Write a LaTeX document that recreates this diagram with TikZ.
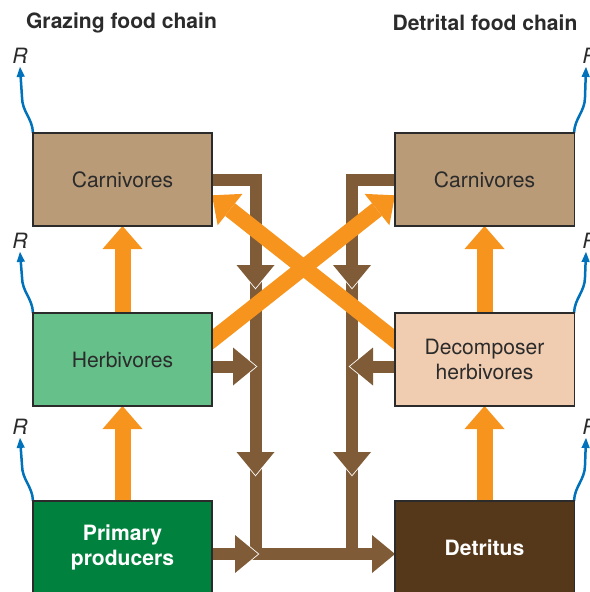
\documentclass[tikz,border=0pt]{standalone}
\usepackage{fontspec}
\setmainfont{TeX Gyre Heros}
\usetikzlibrary{positioning,arrows.meta,calc,backgrounds}

\definecolor{carnc}{HTML}{B99B78}
\definecolor{herbc}{HTML}{66C08A}
\definecolor{prodc}{HTML}{00823E}
\definecolor{decoc}{HTML}{F0CCB0}
\definecolor{detc}{HTML}{553719}
\definecolor{flowc}{HTML}{7F5C37}
\definecolor{eatc}{HTML}{F7941D}
\definecolor{respc}{HTML}{0072BC}
\definecolor{inkc}{HTML}{2B2B2B}

\tikzset{
  box/.style={draw=inkc, line width=0.9pt, minimum width=5.37cm, minimum height=2.79cm,
    inner sep=0pt, outer sep=0pt, align=center, text=inkc, font=\fontsize{18}{21}\selectfont},
  darkbox/.style={box, text=white, font=\bfseries\fontsize{18}{21}\selectfont},
  head/.style={text=inkc, font=\bfseries\fontsize{18}{21}\selectfont},
  rlab/.style={text=inkc, inner sep=3pt, font=\itshape\fontsize{18}{21}\selectfont},
  resp/.style={draw=respc, line width=0.075cm, -{Triangle[length=0.3cm, width=0.25cm, line width=0pt]}},
  eat/.style={draw=eatc, line width=0.48cm, -{Triangle[length=0.69cm, width=1.2cm, line width=0pt]}},
  flow/.style={draw=flowc, line width=0.36cm, line join=miter, -{Triangle[length=0.69cm, width=1.14cm, line width=0pt]}},
  edged/.style={flow, preaction={draw=white, line width=0.42cm, shorten >=-0.04cm,
    -{Triangle[length=0.755cm, width=1.245cm, line width=0pt]}}}
}

\begin{document}
\begin{tikzpicture}[x=0.03cm, y=0.03cm]
  \useasboundingbox (0,0) rectangle (589,-592);

  % titles
  \node[head] (tG) at (121.5,-23) {Grazing food chain};
  \node[head] (tD) at (485,-23) {Detrital food chain};

  % grazing chain
  \node[box, fill=carnc] (carnG) at (122.5,-179.5) {Carnivores};
  \node[box, fill=herbc, below=2.61cm of carnG] (herbG) {Herbivores};
  \node[darkbox, fill=prodc, below=2.85cm of herbG] (prodG) {Primary\\producers};

  % detrital chain
  \node[box, fill=carnc, right=5.49cm of carnG] (carnD) {Carnivores};
  \node[box, fill=decoc, right=5.49cm of herbG] (decD) {Decomposer\\herbivores};
  \node[darkbox, fill=detc, right=5.49cm of prodG] (detD) {Detritus};

  % respiration
  \node[rlab] (rG1) at (20,-55.5) {R};
  \node[rlab] (rG2) at (20,-240.5) {R};
  \node[rlab] (rG3) at (20,-426.5) {R};
  \node[rlab] (rD1) at (590,-55.5) {R};
  \node[rlab] (rD2) at (590,-240.5) {R};
  \node[rlab] (rD3) at (590,-426.5) {R};

  \coordinate (tipL1) at (255.5,-288);
  \coordinate (tipL2) at (255.5,-475);
  \coordinate (bendL) at (255.5,-554);
  \coordinate (tipR1) at (352,-288);
  \coordinate (tipR2) at (352,-475);
  \coordinate (bendR) at (352,-554);

  \begin{scope}[on background layer]
    \draw[resp] (carnG.north west) to[out=92,in=-90] ++(-11,36) -- (rG1.south);
    \draw[resp] (herbG.north west) to[out=92,in=-90] ++(-11,36) -- (rG2.south);
    \draw[resp] (prodG.north west) to[out=92,in=-90] ++(-11,36) -- (rG3.south);
    \draw[resp] (carnD.north east) to[out=88,in=-90] ++(11,36) -- ([xshift=-0.12cm]rD1.south);
    \draw[resp] (decD.north east) to[out=88,in=-90] ++(11,36) -- ([xshift=-0.12cm]rD2.south);
    \draw[resp] (detD.north east) to[out=88,in=-90] ++(11,36) -- ([xshift=-0.12cm]rD3.south);

    % dead matter to detritus
    \draw[edged] ($(tipL2)+(0,15)$) -- (bendL) -- (detD.west |- bendL);
    \draw[flow, -] ($(tipR2)+(0,15)$) -- (bendR);
    \draw[edged] ($(tipL1)+(0,15)$) -- (tipL2);
    \draw[edged] ($(tipR1)+(0,15)$) -- (tipR2);
    \draw[edged] (carnG.east) -| (tipL1);
    \draw[edged] (carnD.west) -| (tipR1);
    \draw[edged] ([yshift=-0.21cm]herbG.east) -- +(44,0);
    \draw[edged] ([yshift=-0.21cm]decD.west) -- +(-45,0);
    \draw[edged] (prodG.east |- bendL) -- +(46,0);

    % feeding
    \draw[eat] (herbG.north) -- (carnG.south);
    \draw[eat] (prodG.north) -- (herbG.south);
    \draw[eat] (decD.north) -- (carnD.south);
    \draw[eat] (detD.north) -- (decD.south);
    \draw[eat, shorten <=-0.3cm] ($(herbG.north east)!0.29!(herbG.south east)$) -- ($(carnD.north west)!0.67!(carnD.south west)$);
    \draw[eat, shorten <=-0.3cm] ($(decD.north west)!0.29!(decD.south west)$) -- ($(carnG.north east)!0.67!(carnG.south east)$);
  \end{scope}
\end{tikzpicture}
\end{document}
